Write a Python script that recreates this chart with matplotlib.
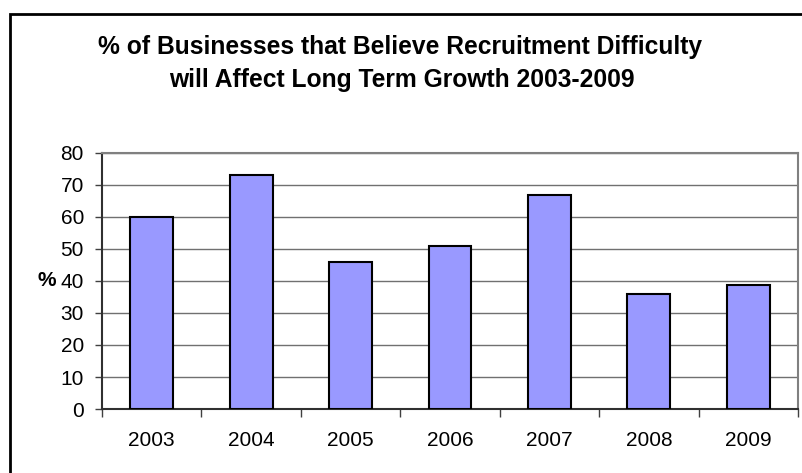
import matplotlib.pyplot as plt
from matplotlib.patches import Rectangle

years = ['2003', '2004', '2005', '2006', '2007', '2008', '2009']
percent = [60, 73, 46, 51, 67, 36, 38.7]
yticks = [0, 10, 20, 30, 40, 50, 60, 70, 80]


def main():
    plt.rcParams['font.family'] = ['Liberation Sans', 'DejaVu Sans']

    fig = plt.figure(figsize=(8.03, 4.73), dpi=100)
    # outer chart border (cut off at right and bottom like the original)
    fig.patches.append(Rectangle((10 / 803, -0.05), 1.0, (473 - 14) / 473 + 0.05,
                                 transform=fig.transFigure, fill=False,
                                 edgecolor='black', linewidth=2))

    ax = fig.add_axes([102 / 803, 1 - 409 / 473, (798 - 102) / 803, (409 - 153) / 473])
    x = list(range(len(years)))
    ax.bar(x, percent, width=0.43, color='#9999FF', edgecolor='black',
           linewidth=1.5, zorder=3)

    ax.set_xlim(-0.5, len(years) - 0.5)
    ax.set_ylim(0, 80)
    ax.set_yticks(yticks)
    ax.yaxis.grid(True, color='#707070', linewidth=1, zorder=0)
    ax.tick_params(axis='y', labelsize=15, length=5, width=1, color='#404040', pad=8)

    # category labels centred, tick marks between categories
    ax.set_xticks(x)
    ax.set_xticklabels(years, fontsize=15)
    ax.tick_params(axis='x', which='major', length=0, pad=16)
    ax.set_xticks([i - 0.5 for i in range(len(years) + 1)], minor=True)
    ax.tick_params(axis='x', which='minor', length=6, width=1, color='#404040')

    for side in ['top', 'right']:
        ax.spines[side].set_color('#808080')
        ax.spines[side].set_linewidth(1.5)
    ax.spines['left'].set_color('#303030')
    ax.spines['left'].set_linewidth(1.5)
    ax.spines['bottom'].set_color('#303030')
    ax.spines['bottom'].set_linewidth(1.5)

    ax.set_ylabel('%', fontsize=15, fontweight='bold', rotation=0,
                  ha='center', va='center')
    ax.yaxis.set_label_coords(-0.080, 0.5)

    fig.text(400 / 803, 1 - 47 / 473, '% of Businesses that Believe Recruitment Difficulty',
             ha='center', va='center', fontsize=17.7, fontweight='bold')
    fig.text(402 / 803, 1 - 80 / 473, 'will Affect Long Term Growth 2003-2009',
             ha='center', va='center', fontsize=17.7, fontweight='bold')

    plt.savefig('out.png', dpi=100)


if __name__ == '__main__':
    main()
